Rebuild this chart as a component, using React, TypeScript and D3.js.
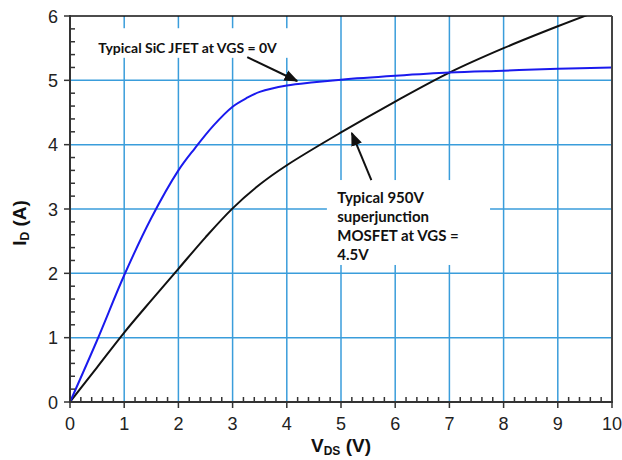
import React from 'react';
import * as d3 from 'd3';

// JFET curve (VGS = 0V)
const jfetVds = [0, 0.5, 1, 1.5, 2, 2.3, 2.65, 3, 3.25, 3.5, 4, 4.5, 5, 6, 7, 8, 9, 10];
const jfetId = [0, 0.96, 1.97, 2.86, 3.6, 3.94, 4.3, 4.59, 4.72, 4.82, 4.92, 4.97, 5.01, 5.07, 5.12, 5.15, 5.18, 5.2];

// 950V superjunction MOSFET (VGS = 4.5V)
const mosVds = [0, 0.5, 1, 1.5, 2, 2.5, 3, 3.5, 4, 5, 6, 7, 8, 9, 10];
const mosId = [0, 0.54, 1.08, 1.58, 2.07, 2.56, 3.01, 3.38, 3.68, 4.19, 4.67, 5.12, 5.5, 5.84, 6.16];

const xTicks = [0, 1, 2, 3, 4, 5, 6, 7, 8, 9, 10];
const yTicks = [0, 1, 2, 3, 4, 5, 6];

const width = 622;
const height = 460;
const margin = { left: 70, right: 10, top: 16, bottom: 58 };

const x = d3.scaleLinear().domain([0, 10]).range([margin.left, width - margin.right]);
const y = d3.scaleLinear().domain([0, 6]).range([height - margin.bottom, margin.top]);

const gridColor = '#3a9ddb';
const font = '"Liberation Sans", Arial, sans-serif';
const noteFont = 'Lato, "Open Sans", sans-serif';

const line = d3
  .line<[number, number]>()
  .x(d => x(d[0]))
  .y(d => y(d[1]))
  .curve(d3.curveCatmullRom.alpha(0.5));

const minorX = d3.range(0, 10.001, 0.2).filter(v => Math.abs(v - Math.round(v)) > 0.01);
const minorY = d3.range(0, 6.001, 0.2).filter(v => Math.abs(v - Math.round(v)) > 0.01);

export default function App() {
  const x0 = x(0);
  const x1 = x(10);
  const y0 = y(0);
  const y1 = y(6);
  const jfet = jfetVds.map((v, i) => [v, jfetId[i]] as [number, number]);
  const mos = mosVds.map((v, i) => [v, mosId[i]] as [number, number]);

  return (
    <svg
      width={width}
      height={height}
      style={{ position: 'absolute', left: 0, top: 0, background: '#fff' }}
    >
      <defs>
        <clipPath id="plot">
          <rect x={x0} y={y1} width={x1 - x0} height={y0 - y1} />
        </clipPath>
        <marker id="arrow" viewBox="0 0 10 10" refX="9" refY="5" markerWidth="7" markerHeight="7" orient="auto">
          <path d="M0,1 L10,5 L0,9 z" fill="#111" />
        </marker>
      </defs>

      {/* grid */}
      {xTicks.slice(1, -1).map(t => (
        <line key={'gx' + t} x1={x(t)} x2={x(t)} y1={y0} y2={y1} stroke={gridColor} strokeWidth={1.5} />
      ))}
      {yTicks.slice(1, -1).map(t => (
        <line key={'gy' + t} x1={x0} x2={x1} y1={y(t)} y2={y(t)} stroke={gridColor} strokeWidth={1.5} />
      ))}

      {/* white boxes behind the notes */}
      <rect x={x(0.28)} y={y(5.81)} width={x(4.1) - x(0.28)} height={y(5.35) - y(5.81)} fill="#fff" />
      <rect x={x(4.74)} y={y(3.45)} width={x(7.75) - x(4.74)} height={y(2.13) - y(3.45)} fill="#fff" />

      {/* curves */}
      <g clipPath="url(#plot)">
        <path d={line(mos) ?? ''} fill="none" stroke="#111" strokeWidth={2} />
        <path d={line(jfet) ?? ''} fill="none" stroke="#1a1aee" strokeWidth={2} />
      </g>

      {/* frame */}
      <line x1={x0} x2={x1} y1={y1} y2={y1} stroke="#111" strokeWidth={1.5} />
      <line x1={x1} x2={x1} y1={y1} y2={y0} stroke="#444" strokeWidth={2} />
      <line x1={x0} x2={x0} y1={y1 - 1} y2={y0} stroke="#333" strokeWidth={2} />
      <line x1={x0 - 1} x2={x1 + 1} y1={y0} y2={y0} stroke="#333" strokeWidth={2} />

      {/* ticks */}
      {minorX.map(t => (
        <line key={'mx' + t} x1={x(t)} x2={x(t)} y1={y0} y2={y0 - 5} stroke="#333" strokeWidth={1.5} />
      ))}
      {xTicks.map(t => (
        <line key={'tx' + t} x1={x(t)} x2={x(t)} y1={y0} y2={y0 + 6} stroke="#333" strokeWidth={1.5} />
      ))}
      {minorY.map(t => (
        <line key={'my' + t} x1={x0} x2={x0 + 5} y1={y(t)} y2={y(t)} stroke="#333" strokeWidth={1.5} />
      ))}
      {yTicks.map(t => (
        <line key={'ty' + t} x1={x0 - 6} x2={x0} y1={y(t)} y2={y(t)} stroke="#333" strokeWidth={1.5} />
      ))}

      {/* tick labels */}
      {xTicks.map(t => (
        <text key={'lx' + t} x={x(t)} y={y0 + 28} textAnchor="middle" fontFamily={font} fontSize={18} fill="#222">
          {t}
        </text>
      ))}
      {yTicks.map(t => (
        <text key={'ly' + t} x={x0 - 12} y={y(t) + 6.5} textAnchor="end" fontFamily={font} fontSize={18} fill="#222">
          {t}
        </text>
      ))}

      {/* axis titles */}
      <text x={x(5)} y={452} textAnchor="middle" fontFamily={font} fontSize={19} fontWeight="bold" fill="#111">
        V<tspan fontSize={12} dy={3}>DS</tspan>
        <tspan dy={-3}> (V)</tspan>
      </text>
      <text
        transform={`translate(26, ${(y0 + y1) / 2 + 14}) rotate(-90)`}
        textAnchor="middle"
        fontFamily={font}
        fontSize={19}
        fontWeight="bold"
        fill="#111"
      >
        I<tspan fontSize={12} dy={3}>D</tspan>
        <tspan dy={-3}> (A)</tspan>
      </text>

      {/* notes */}
      <text x={x(0.52)} y={y(5.36) - 4} fontFamily={noteFont} fontSize={14} fontWeight="bold" fill="#111">
        Typical SiC JFET at VGS = 0V
      </text>
      {['Typical 950V', 'superjunction', 'MOSFET at VGS =', '4.5V'].map((s, i) => (
        <text key={s} x={x(4.93)} y={y(3.1) + i * 19} fontFamily={noteFont} fontSize={15} fontWeight="bold" fill="#111">
          {s}
        </text>
      ))}

      {/* arrows */}
      <line x1={x(3.27)} y1={y(5.36)} x2={x(4.19)} y2={y(4.99)} stroke="#111" strokeWidth={2} markerEnd="url(#arrow)" />
      <line x1={x(5.56)} y1={y(3.45)} x2={x(5.2)} y2={y(4.18)} stroke="#111" strokeWidth={2} markerEnd="url(#arrow)" />
    </svg>
  );
}
